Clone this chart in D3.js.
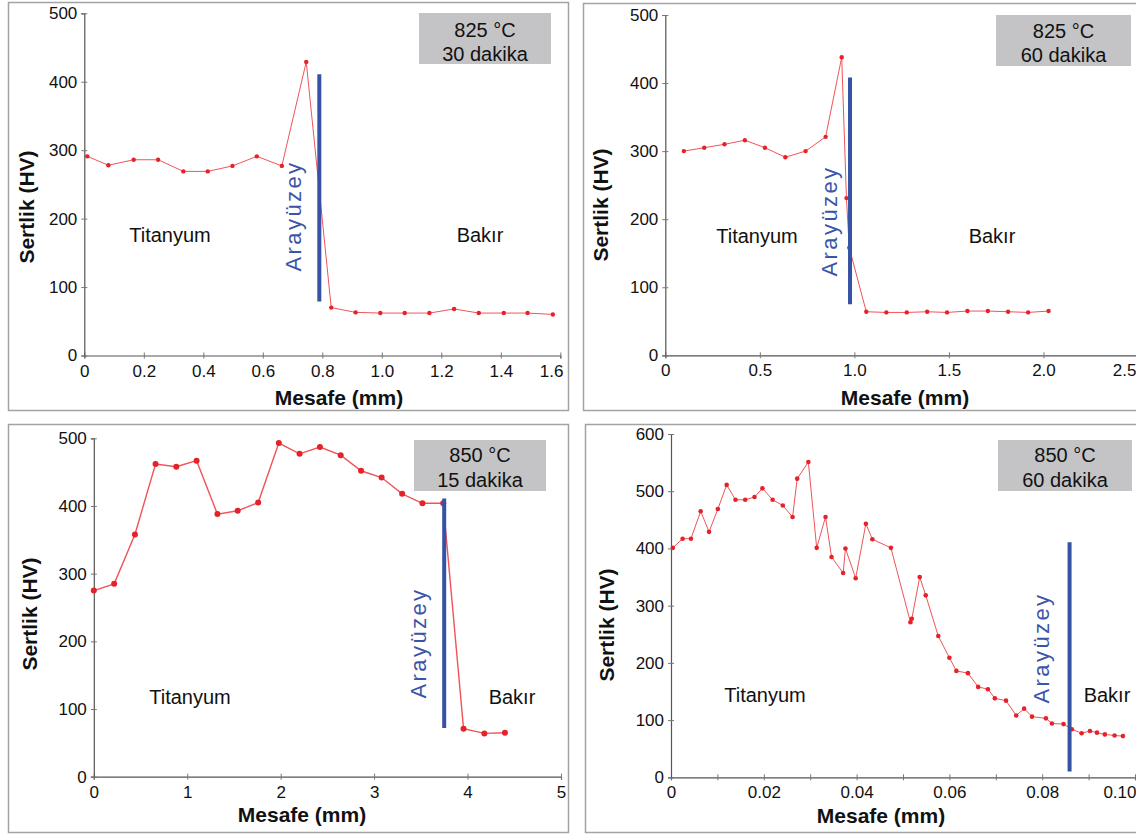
<!DOCTYPE html>
<html lang="tr">
<head>
<meta charset="UTF-8">
<title>Sertlik profilleri</title>
<script src="https://cdn.jsdelivr.net/npm/d3@7"></script>
<style>
  body { margin: 0; background: #fff; }
  svg { display: block; font-family: "Liberation Sans", Arial, sans-serif; }
</style>
</head>
<body>
<script>
// --- data (mm, HV) ---
var dist825_30 = [0.01, 0.081, 0.166, 0.248, 0.333, 0.415, 0.498, 0.58, 0.664, 0.746, 0.83, 0.912, 0.995, 1.077, 1.16, 1.243, 1.326, 1.41, 1.49, 1.575];
var hv825_30   = [291, 278, 286, 286, 269, 269, 277, 291, 277, 429, 70, 63, 62, 62, 62, 68, 62, 62, 62, 60];

var dist825_60 = [0.098, 0.206, 0.313, 0.421, 0.527, 0.635, 0.742, 0.848, 0.933, 0.958, 0.973, 1.063, 1.169, 1.277, 1.385, 1.49, 1.598, 1.706, 1.813, 1.919, 2.027];
var hv825_60   = [300, 305, 310, 316, 305, 291, 300, 321, 438, 231, 158, 64, 63, 63, 64, 63, 65, 65, 64, 63, 65];

var dist850_15 = [0, 0.218, 0.44, 0.661, 0.883, 1.10, 1.323, 1.54, 1.759, 1.98, 2.202, 2.42, 2.642, 2.86, 3.08, 3.30, 3.517, 3.739, 3.957, 4.18, 4.40];
var hv850_15   = [275, 285, 358, 462, 458, 467, 388, 393, 405, 493, 477, 487, 475, 452, 442, 418, 404, 404, 71, 64, 65];

var dist850_60 = [0.0004, 0.0025, 0.0043, 0.0064, 0.0082, 0.0101, 0.012, 0.0139, 0.016, 0.018,
                  0.0197, 0.0219, 0.0241, 0.0262, 0.0272, 0.0296, 0.0314, 0.0333, 0.0346, 0.0371,
                  0.0376, 0.0398, 0.042, 0.0434, 0.0474, 0.0516, 0.0519, 0.0536, 0.0549, 0.0576,
                  0.06, 0.0615, 0.064, 0.0662, 0.0683, 0.0698, 0.0722, 0.0744, 0.0761, 0.0778,
                  0.0808, 0.0821, 0.0846, 0.0864, 0.0885, 0.0903, 0.0918, 0.0935, 0.0956, 0.0974];
var hv850_60   = [401, 417, 417, 465, 429, 469, 511, 485, 485, 490,
                  505, 485, 475, 455, 522, 551, 401, 455, 385, 357,
                  400, 348, 443, 416, 401, 271, 277, 350, 318, 247,
                  209, 186, 182, 158, 154, 138, 134, 108, 120, 106,
                  103, 94, 93, 84, 77, 81, 78, 75, 73, 72];

var xTicks1 = [0, 0.2, 0.4, 0.6, 0.8, 1.0, 1.2, 1.4, 1.6];
var xTicks2 = [0, 0.5, 1.0, 1.5, 2.0, 2.5];
var xTicks3 = [0, 1, 2, 3, 4, 5];
var xTicks4 = [0, 0.02, 0.04, 0.06, 0.08, 0.10];
var yTicks500 = [0, 100, 200, 300, 400, 500];
var yTicks600 = [0, 100, 200, 300, 400, 500, 600];

var interfaceX = [0.79, 0.977, 3.75, 0.0859];   // Arayüzey position
var interfaceY = [[79, 411], [75, 408], [72, 411], [10, 411]];
var boxTemp = ["825 °C", "825 °C", "850 °C", "850 °C"];
var boxTime = ["30 dakika", "60 dakika", "15 dakika", "60 dakika"];

var width = 1136, height = 836;
var svg = d3.select("body").append("svg").attr("width", width).attr("height", height);

var panels = [
  { frame: [8, 2, 560, 408], xr: [84.3, 560.3], yr: [355.5, 13.3], xd: [0, 1.6], yd: [0, 500],
    xs: dist825_30, ys: hv825_30, xt: xTicks1, yt: yTicks500, fmt: function(d){ return d === 0 ? "0" : d3.format(".1f")(d); },
    lastEnd: 563,
    r: 2.2, lw: 1, box: [419, 13, 132, 51], boxBase: [37, 61],
    ti: [170, 242], ba: [480, 242], ar: [301, 216], sert: [34, 207], mes: [339, 405] },
  { frame: [583, 3, 560, 407], xr: [665.3, 1138], yr: [355.3, 15], xd: [0, 2.5], yd: [0, 500],
    xs: dist825_60, ys: hv825_60, xt: xTicks2, yt: yTicks500, fmt: function(d){ return d === 0 ? "0" : d3.format(".1f")(d); },
    lastEnd: 1136,
    r: 2.2, lw: 1, box: [996, 15, 135, 51], boxBase: [38, 62],
    ti: [757, 243], ba: [992, 243], ar: [837, 221], sert: [608, 205], mes: [905, 405] },
  { frame: [8, 424, 560, 408], xr: [93.8, 561], yr: [776.7, 438.3], xd: [0, 5], yd: [0, 500],
    xs: dist850_15, ys: hv850_15, xt: xTicks3, yt: yTicks500, fmt: d3.format("d"),
    r: 3, lw: 1.4, box: [414, 440, 132, 51], boxBase: [462, 487],
    ti: [190, 704], ba: [512, 704], ar: [426, 643], sert: [37, 614], mes: [302, 822] },
  { frame: [585, 424, 560, 408], xr: [671, 1135], yr: [777.3, 434], xd: [0, 0.10], yd: [0, 600],
    xs: dist850_60, ys: hv850_60, xt: xTicks4, yt: yTicks600, fmt: function(d){ return d === 0 ? "0" : d3.format(".2f")(d); },
    minor: d3.range(0, 11).map(function(i){ return i / 100; }),
    lastEnd: 1136,
    r: 2.3, lw: 1, box: [998, 440, 134, 51], boxBase: [462, 487],
    ti: [765, 702], ba: [1107, 702], ar: [1049, 648], sert: [614, 625], mes: [881, 823] }
];

panels.forEach(function(p, k) {
  var g = svg.append("g");

  g.append("rect")
    .attr("x", p.frame[0] + 0.5).attr("y", p.frame[1] + 0.5)
    .attr("width", p.frame[2]).attr("height", p.frame[3])
    .attr("fill", "none").attr("stroke", "#a3a3a3").attr("stroke-width", 1.5);

  var x = d3.scaleLinear().domain(p.xd).range(p.xr);
  var y = d3.scaleLinear().domain(p.yd).range(p.yr);

  // x axis
  var xa = g.append("g").attr("transform", "translate(0," + p.yr[0] + ")")
    .call(d3.axisBottom(x).tickValues(p.minor || p.xt).tickSize(3).tickPadding(6)
      .tickFormat(function(d) {
        var hit = p.xt.filter(function(t){ return Math.abs(t - d) < 1e-9; });
        return hit.length ? p.fmt(d) : "";
      }));
  // y axis
  var ya = g.append("g").attr("transform", "translate(" + p.xr[0] + ",0)")
    .call(d3.axisLeft(y).tickValues(p.yt).tickSize(3).tickPadding(4).tickFormat(d3.format("d")));

  [xa, ya].forEach(function(a) {
    a.select(".domain").attr("stroke", "#555").attr("stroke-width", 1.2);
    a.selectAll(".tick line").attr("stroke", "#777");
    a.selectAll(".tick text").attr("fill", "#111").style("font-size", "17px");
  });
  xa.selectAll(".tick line").attr("y1", -3);
  ya.selectAll(".tick line").attr("x1", 3);

  // last x label pulled in so it stays inside the frame
  if (p.lastEnd) {
    var last = p.xd[1];
    xa.selectAll(".tick").filter(function(d){ return Math.abs(d - last) < 1e-9; })
      .select("text").attr("text-anchor", "end").attr("x", p.lastEnd - x(last));
  }

  // info box
  g.append("rect").attr("x", p.box[0]).attr("y", p.box[1])
    .attr("width", p.box[2]).attr("height", p.box[3]).attr("fill", "#c4c4c6");
  g.append("text").attr("x", p.box[0] + p.box[2] / 2).attr("y", p.boxBase[0])
    .attr("text-anchor", "middle").style("font-size", "20px").attr("fill", "#111").text(boxTemp[k]);
  g.append("text").attr("x", p.box[0] + p.box[2] / 2).attr("y", p.boxBase[1])
    .attr("text-anchor", "middle").style("font-size", "20px").attr("fill", "#111").text(boxTime[k]);

  // curve
  var pts = p.xs.map(function(d, i){ return [d, p.ys[i]]; });
  g.append("path").datum(pts)
    .attr("fill", "none").attr("stroke", "#f0545a").attr("stroke-width", p.lw)
    .attr("d", d3.line().x(function(d){ return x(d[0]); }).y(function(d){ return y(d[1]); }));
  g.selectAll("circle.pt").data(pts).enter().append("circle")
    .attr("class", "pt")
    .attr("cx", function(d){ return x(d[0]); })
    .attr("cy", function(d){ return y(d[1]); })
    .attr("r", p.r).attr("fill", "#e5222a");

  // interface line
  g.append("line")
    .attr("x1", x(interfaceX[k])).attr("x2", x(interfaceX[k]))
    .attr("y1", y(interfaceY[k][0])).attr("y2", y(interfaceY[k][1]))
    .attr("stroke", "#3652a5").attr("stroke-width", 4);

  g.append("text").attr("transform", "translate(" + p.ar[0] + "," + p.ar[1] + ") rotate(-90)")
    .attr("text-anchor", "middle").style("font-size", "22px").style("letter-spacing", "2.4px")
    .attr("fill", "#3a55a8").text("Arayüzey");

  g.append("text").attr("x", p.ti[0]).attr("y", p.ti[1]).attr("text-anchor", "middle")
    .style("font-size", "20px").attr("fill", "#111").text("Titanyum");
  g.append("text").attr("x", p.ba[0]).attr("y", p.ba[1]).attr("text-anchor", "middle")
    .style("font-size", "20px").attr("fill", "#111").text("Bakır");

  // axis titles
  g.append("text").attr("transform", "translate(" + p.sert[0] + "," + p.sert[1] + ") rotate(-90)")
    .attr("text-anchor", "middle").style("font-size", "21px").style("font-weight", "bold")
    .attr("fill", "#111").text("Sertlik (HV)");
  g.append("text").attr("x", p.mes[0]).attr("y", p.mes[1]).attr("text-anchor", "middle")
    .style("font-size", "21px").style("font-weight", "bold").attr("fill", "#111").text("Mesafe (mm)");
});
</script>
</body>
</html>
